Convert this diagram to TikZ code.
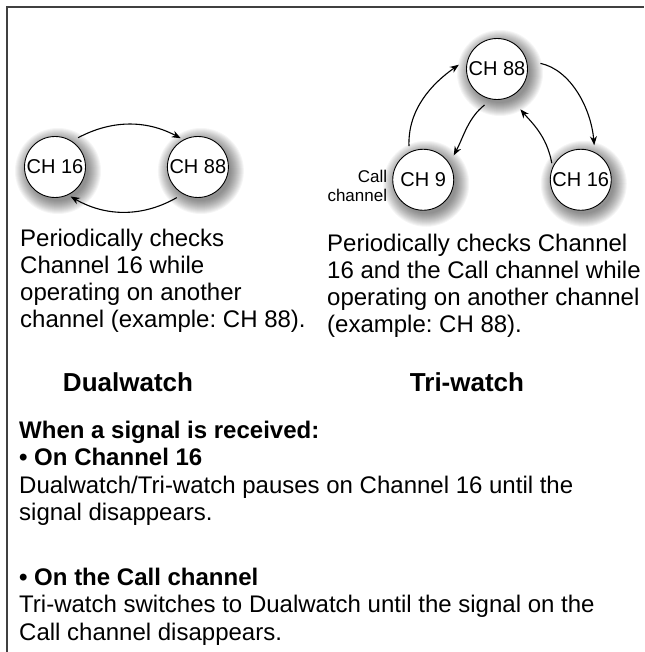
\documentclass[tikz,border=0pt]{standalone}
\usepackage{fontspec}
\setmainfont{Liberation Sans}
\usetikzlibrary{positioning,arrows.meta,calc,backgrounds}
\frenchspacing

\begin{document}
\begin{tikzpicture}[x=1pt, y=1pt, >={Stealth[length=9pt,width=7pt]}, chan/.style = {circle, draw, line width=0.9pt, fill=white, minimum size=61pt, inner sep=0pt, font=\fontsize{20}{22}\selectfont}, arr/.style={->, line width=1.1pt}, para/.style={anchor=north west, inner sep=0pt, align=left, font=\fontsize{24}{27}\selectfont}, mode/.style={anchor=base, inner sep=0pt, font=\fontsize{26}{30}\selectfont\bfseries}]

\useasboundingbox (0,0) rectangle (644,652);
\draw[line width=1.6pt, black!75] (7,0) -- (7,645) -- (644,645);

% Dualwatch
\node[chan] (d16) at (55,485) {CH 16};
\node[chan] (d88) [right=81pt of d16] {CH 88};

% Tri-watch
\node[chan] (t88) at (497,583) {CH 88};
\node[chan] (t9) [below left=67pt and 30pt of t88] {CH 9};
\node[chan] (t16) [below right=67pt and 40pt of t88] {CH 16};
\node[inner sep=0pt, align=right, font=\fontsize{17}{19}\selectfont] (calllbl) [left=5pt of t9, yshift=-6pt] {Call\\channel};

% soft shadows
\begin{pgfonlayer}{background}
\foreach \n in {d16,d88,t88,t9,t16}
  \foreach \k in {1,...,14}
    \fill[black, opacity=0.04] ($(\n)+(3,-4)$) circle (44-\k);
\end{pgfonlayer}

\path[arr]
    (d16.57) edge[out=28, in=152, shorten <=7pt, shorten >=3pt] (d88.118)
    (d88.-119) edge[out=-150, in=-30, shorten <=7pt, shorten >=3pt] (d16.-65);
\path[arr]
    (t9.117) edge[out=92, in=-145, shorten <=6pt, shorten >=11pt] (t88.160)
    (t88.16) edge[out=-12, in=95, shorten <=14pt, shorten >=7pt] (t16.63)
    (t88.260) edge[out=218, in=62, shorten <=9pt, shorten >=9pt] (t9.32)
    (t16.156) edge[out=100, in=-50, shorten <=4pt, shorten >=16pt] (t88.295);

\node[para] (dualtext) at (20,425) {\strut Periodically checks\\ Channel 16 while\\ operating on another\\ channel (example: CH 88).};
\node[para] (tritext) at (327,420) {\strut Periodically checks Channel\\ 16 and the Call channel while\\ operating on another channel\\ (example: CH 88).};

\node[mode] (dualname) at (128,260) {Dualwatch};
\node[mode] (triname) at (467,260) {Tri-watch};

\node[para, font=\fontsize{24}{27.5}\selectfont] (rxtext) at (19,233) {\strut\textbf{When a signal is received:}\\ \textbf{• On Channel 16}\\ Dualwatch/Tri-watch pauses on Channel 16 until the\\ signal disappears.\\[37pt] \textbf{• On the Call channel}\\ Tri-watch switches to Dualwatch until the signal on the\\ Call channel disappears.};
\end{tikzpicture}
\end{document}
